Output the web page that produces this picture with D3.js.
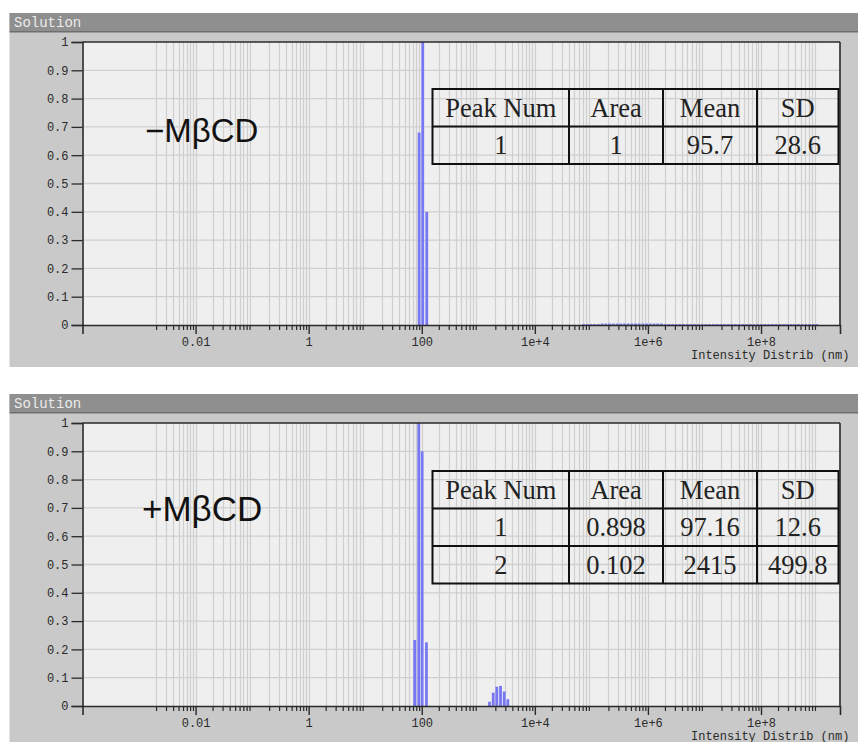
<!DOCTYPE html>
<html>
<head>
<meta charset="utf-8">
<script src="https://cdn.jsdelivr.net/npm/d3@7"></script>
<style>
  html, body { margin: 0; padding: 0; background: #ffffff; }
  svg { display: block; }
</style>
</head>
<body>
<svg id="chart" width="858" height="742"></svg>
<script>
// ---- data ----
const panelTitle = "Solution";
const axisTitle = "Intensity Distrib (nm)";
const yTickValues = [0, 0.1, 0.2, 0.3, 0.4, 0.5, 0.6, 0.7, 0.8, 0.9, 1];
const xMajorTicks = [0.01, 1, 100, 1e4, 1e6, 1e8];
const xMajorLabels = ["0.01", "1", "100", "1e+4", "1e+6", "1e+8"];

const sampleLabels = ["\u2212M\u03B2CD", "+M\u03B2CD"];

// -MβCD: main peak bins (nm) and intensity
const minusPeakSizes = [89.9, 104.1, 122.6];
const minusPeakIntensity = [0.68, 1.0, 0.40];
// -MβCD: faint large-size tail
const minusTailSizes = [
  7.28e4, 8.46e4, 9.84e4, 1.14e5, 1.33e5, 1.55e5, 1.80e5, 2.09e5, 2.43e5, 2.83e5,
  3.29e5, 3.82e5, 4.45e5, 5.17e5, 6.01e5, 6.99e5, 8.13e5, 9.45e5, 1.10e6, 1.28e6,
  1.49e6, 1.73e6, 2.01e6, 2.34e6, 2.72e6, 3.16e6, 3.67e6, 4.27e6, 4.97e6, 5.77e6,
  6.71e6, 7.81e6, 9.08e6, 1.06e7, 1.23e7, 1.43e7, 1.66e7, 1.93e7, 2.24e7, 2.61e7,
  3.03e7, 3.53e7, 4.10e7, 4.77e7, 5.55e7, 6.45e7, 7.50e7, 8.72e7, 1.01e8, 1.18e8,
  1.37e8, 1.59e8, 1.85e8, 2.16e8, 2.51e8, 2.91e8, 3.39e8, 3.94e8, 4.58e8, 5.33e8,
  6.19e8, 7.20e8, 8.38e8, 9.74e8
];
const minusTailIntensity = [
  0.003, 0.003, 0.003, 0.003, 0.003, 0.005, 0.005, 0.005, 0.005, 0.005,
  0.005, 0.005, 0.005, 0.005, 0.005, 0.005, 0.005, 0.005, 0.005, 0.005,
  0.005, 0.005, 0.003, 0.003, 0.003, 0.003, 0.003, 0.003, 0.003, 0.003,
  0.003, 0.003, 0.003, 0.003, 0.003, 0.003, 0.003, 0.003, 0.003, 0.003,
  0.003, 0.003, 0.003, 0.003, 0.003, 0.003, 0.003, 0.003, 0.003, 0.003,
  0.003, 0.003, 0.003, 0.003, 0.003, 0.003, 0.003, 0.003, 0.003, 0.003,
  0.003, 0.003, 0.003, 0.003
];

// +MβCD: two peaks
const plusSizes = [75.2, 88.5, 101.6, 121.0, 1578, 1837, 2126, 2473, 2873, 3327];
const plusIntensity = [0.233, 1.0, 0.90, 0.225, 0.015, 0.047, 0.068, 0.071, 0.051, 0.024];

const tableHeader = ["Peak Num", "Area", "Mean", "SD"];
const minusTableRows = [["1", "1", "95.7", "28.6"]];
const plusTableRows = [["1", "0.898", "97.16", "12.6"], ["2", "0.102", "2415", "499.8"]];

// ---- layout ----
const svg = d3.select("#chart");
const MONO = "'Liberation Mono', 'DejaVu Sans Mono', monospace";
const SERIF = "'Liberation Serif', 'Times New Roman', serif";
const SANS = "'Liberation Sans', Arial, sans-serif";
const barColor = "#7878f4";
const axisInk = "#2a2a2a";

const x = d3.scaleLog().domain([1e-4, Math.pow(10, 9.397)]).range([82.5, 840]);

// minor tick positions: 2..9 in every decade from 1e-3 to 1e8
const minorTicks = [];
for (let e = -3; e <= 8; e++) {
  for (let k = 2; k <= 9; k++) minorTicks.push(k * Math.pow(10, e));
}
const gridXs = minorTicks.concat(xMajorTicks);

function drawPanel(top, sizes, values, label, labelX, labelY, labelSize, rows, tableTop) {
  const g = svg.append("g");
  const plotTop = top + 29;
  const plotBottom = top + 312;
  const y = d3.scaleLinear().domain([0, 1]).range([plotBottom, plotTop]);

  // panel frame
  g.append("rect").attr("x", 9.5).attr("y", top).attr("width", 858 - 9.5).attr("height", 354)
    .attr("fill", "#c9c9c9");
  g.append("rect").attr("x", 9.5).attr("y", top).attr("width", 858 - 9.5).attr("height", 18)
    .attr("fill", "#8f8f8f");
  g.append("rect").attr("x", 9.5).attr("y", top + 18).attr("width", 858 - 9.5).attr("height", 1.5)
    .attr("fill", "#6e6e6e");
  g.append("text").attr("x", 14).attr("y", top + 14)
    .attr("font-family", MONO).attr("font-size", 14).attr("fill", "#ececec")
    .text(panelTitle);

  // plot background
  g.append("rect").attr("x", x.range()[0]).attr("y", plotTop)
    .attr("width", x.range()[1] - x.range()[0]).attr("height", plotBottom - plotTop)
    .attr("fill", "#efefef");

  // grid
  g.append("g").selectAll("line").data(gridXs).join("line")
    .attr("x1", d => Math.round(x(d)) + 0.5).attr("x2", d => Math.round(x(d)) + 0.5)
    .attr("y1", plotTop).attr("y2", plotBottom)
    .attr("stroke", "#cfcfcf").attr("stroke-width", 1.2);
  g.append("g").selectAll("line").data(yTickValues.slice(1, -1)).join("line")
    .attr("x1", x.range()[0]).attr("x2", x.range()[1])
    .attr("y1", d => y(d)).attr("y2", d => y(d))
    .attr("stroke", "#cfcfcf").attr("stroke-width", 1.3);

  // bars
  g.append("g").selectAll("rect").data(sizes.map((s, i) => [s, values[i]])).join("rect")
    .attr("x", d => x(d[0]) - 1.4).attr("width", 2.8)
    .attr("y", d => y(d[1])).attr("height", d => plotBottom - y(d[1]))
    .attr("fill", barColor);

  // y axis
  const yAxis = d3.axisLeft(y).tickValues(yTickValues).tickSize(11).tickPadding(3)
    .tickFormat(d => d3.format("~g")(d));
  const ya = g.append("g").attr("transform", `translate(${x.range()[0]},0)`).call(yAxis);
  ya.select(".domain").attr("stroke", axisInk).attr("stroke-width", 1.6);
  ya.selectAll(".tick line").attr("stroke", axisInk).attr("stroke-width", 1.3);
  ya.selectAll(".tick text").attr("font-family", MONO).attr("font-size", 12)
    .attr("fill", axisInk);

  // x axis: minor and major ticks
  const xMinor = d3.axisBottom(x).tickValues(minorTicks).tickSize(5).tickFormat("");
  const xm = g.append("g").attr("transform", `translate(0,${plotBottom})`).call(xMinor);
  xm.select(".domain").remove();
  xm.selectAll(".tick line").attr("stroke", axisInk).attr("stroke-width", 1.2);
  const xMajor = d3.axisBottom(x).tickValues(xMajorTicks).tickSize(9).tickPadding(3)
    .tickFormat((d, i) => xMajorLabels[i]);
  const xa = g.append("g").attr("transform", `translate(0,${plotBottom})`).call(xMajor);
  xa.select(".domain").attr("stroke", axisInk).attr("stroke-width", 1.6);
  xa.selectAll(".tick line").attr("stroke", axisInk).attr("stroke-width", 1.4);
  xa.selectAll(".tick text").attr("font-family", MONO).attr("font-size", 12)
    .attr("fill", axisInk);

  // frame top / right
  g.append("line").attr("x1", x.range()[0]).attr("x2", x.range()[1])
    .attr("y1", plotTop).attr("y2", plotTop).attr("stroke", axisInk).attr("stroke-width", 1.6);
  g.append("line").attr("x1", x.range()[1]).attr("x2", x.range()[1])
    .attr("y1", plotTop).attr("y2", plotBottom).attr("stroke", axisInk).attr("stroke-width", 1.6);

  g.append("text").attr("x", 691).attr("y", plotBottom + 33.5)
    .attr("font-family", MONO).attr("font-size", 12).attr("fill", axisInk)
    .text(axisTitle);

  // sample label
  g.append("text").attr("x", labelX).attr("y", labelY)
    .attr("font-family", SANS).attr("font-size", labelSize).attr("fill", "#111")
    .text(label);

  // statistics table
  const colX = [432.5, 569, 663, 757, 838.5];
  const rowH = 37.5;
  const allRows = [tableHeader].concat(rows);
  const tg = g.append("g");
  allRows.forEach((r, ri) => {
    r.forEach((cell, ci) => {
      tg.append("text")
        .attr("x", (colX[ci] + colX[ci + 1]) / 2)
        .attr("y", tableTop + ri * rowH + 27.5)
        .attr("text-anchor", "middle")
        .attr("font-family", SERIF).attr("font-size", 26.5).attr("fill", "#222")
        .text(cell);
    });
  });
  const tH = allRows.length * rowH;
  tg.append("rect").attr("x", colX[0]).attr("y", tableTop)
    .attr("width", colX[4] - colX[0]).attr("height", tH)
    .attr("fill", "none").attr("stroke", "#111").attr("stroke-width", 2);
  for (let i = 1; i < allRows.length; i++) {
    tg.append("line").attr("x1", colX[0]).attr("x2", colX[4])
      .attr("y1", tableTop + i * rowH).attr("y2", tableTop + i * rowH)
      .attr("stroke", "#111").attr("stroke-width", 2);
  }
  for (let i = 1; i < 4; i++) {
    tg.append("line").attr("x1", colX[i]).attr("x2", colX[i])
      .attr("y1", tableTop).attr("y2", tableTop + tH)
      .attr("stroke", "#111").attr("stroke-width", 2);
  }
}

drawPanel(13, minusPeakSizes.concat(minusTailSizes), minusPeakIntensity.concat(minusTailIntensity),
  sampleLabels[0], 145, 142, 33, minusTableRows, 89);
drawPanel(394, plusSizes, plusIntensity, sampleLabels[1], 142, 521, 35, plusTableRows, 471);
</script>
</body>
</html>
